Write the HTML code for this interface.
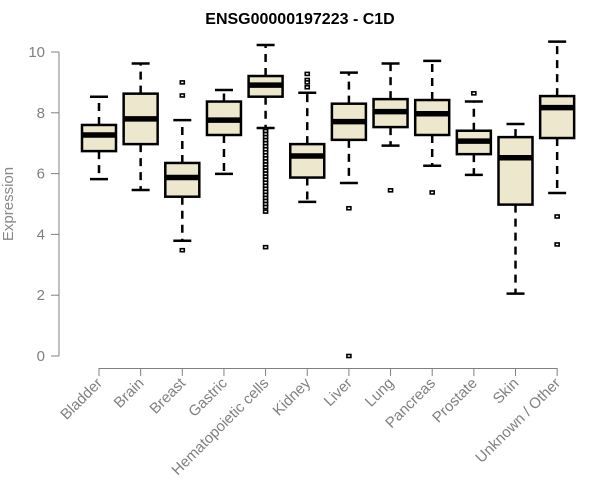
<!DOCTYPE html>
<html><head><meta charset="utf-8"><style>
body{margin:0;background:#fff}
svg{display:block;font-family:"Liberation Sans",Arial,sans-serif}
</style></head><body>
<svg id="chart" width="600" height="500" xmlns="http://www.w3.org/2000/svg">
<text x="300" y="24" text-anchor="middle" font-weight="bold" font-size="16" fill="#000">ENSG00000197223 - C1D</text>
<text transform="translate(13,204) rotate(-90)" text-anchor="middle" font-size="15" fill="#888">Expression</text>
<g id="axes"></g><g id="boxes"></g>
</svg>
<script>
const categories=["Bladder","Brain","Breast","Gastric","Hematopoietic cells","Kidney","Liver","Lung","Pancreas","Prostate","Skin","Unknown / Other"];
const whiskerLow=[5.82,5.46,3.79,5.99,7.5,5.07,5.69,6.92,6.26,5.96,2.05,5.36];
const q1=[6.74,6.97,5.24,7.27,8.53,5.87,7.11,7.53,7.27,6.64,4.98,7.17];
const medians=[7.27,7.80,5.87,7.76,8.91,6.58,7.71,8.04,7.97,7.07,6.52,8.17];
const q3=[7.6,8.63,6.35,8.37,9.21,6.97,8.30,8.45,8.42,7.41,7.20,8.55];
const whiskerHigh=[8.53,9.62,7.76,8.75,10.23,8.66,9.32,9.62,9.71,8.37,7.63,10.34];
const outliers=[[],[],[9.0,8.57,3.48],[],[7.45,7.4,7.3,7.2,7.1,7.0,6.9,6.8,6.7,6.6,6.5,6.4,6.3,6.2,6.1,6.0,5.9,5.8,5.7,5.6,5.5,5.4,5.3,5.2,5.1,5.0,4.9,4.75,3.58],[9.28,9.08,9.0,8.84],[4.86,0.0],[5.45],[5.38],[8.64],[],[4.59,3.67]];
const yTicks=[0,2,4,6,8,10];
const NS="http://www.w3.org/2000/svg";
const y=v=>356-v*30.4;
const x=i=>99+i*41.65;
function mk(tag,attrs,parent){const e=document.createElementNS(NS,tag);for(const k in attrs)e.setAttribute(k,attrs[k]);parent.appendChild(e);return e;}
const ax=document.getElementById('axes'),bx=document.getElementById('boxes');
const g="#808080";
let l=mk('line',{x1:59,x2:59,y1:y(0),y2:y(10),stroke:g},ax);


yTicks.forEach(t=>{
 const tk=mk('line',{x1:51,x2:59,y1:y(t),y2:y(t),stroke:g},ax);
 
 
 const tx=mk('text',{x:45,y:y(t)+5,'text-anchor':'end','font-size':15,fill:'#808080'},ax);
 tx.textContent=t;
 
 
});
l=mk('line',{x1:x(0),x2:x(categories.length-1),y1:368.5,y2:368.5,stroke:g},ax);


categories.forEach((c,i)=>{
 const cx=x(i);
 const tk=mk('line',{x1:cx,x2:cx,y1:368,y2:376,stroke:g},ax);
 
 
 const tx=mk('text',{transform:`translate(${cx+4},${384}) rotate(-45)`,'text-anchor':'end','font-size':15,fill:'#808080'},ax);
 tx.textContent=c;
 
 
 const grp=mk('g',{},bx);
 
 
 const hw=17;
 mk('line',{x1:cx,x2:cx,y1:y(q3[i]),y2:y(whiskerHigh[i]),stroke:'#000','stroke-width':2.5,'stroke-dasharray':'8,6'},grp);
 mk('line',{x1:cx,x2:cx,y1:y(q1[i]),y2:y(whiskerLow[i]),stroke:'#000','stroke-width':2.5,'stroke-dasharray':'8,6'},grp);
 mk('line',{x1:cx-9,x2:cx+9,y1:y(whiskerHigh[i]),y2:y(whiskerHigh[i]),stroke:'#000','stroke-width':2.5},grp);
 mk('line',{x1:cx-9,x2:cx+9,y1:y(whiskerLow[i]),y2:y(whiskerLow[i]),stroke:'#000','stroke-width':2.5},grp);
 mk('rect',{x:cx-hw,y:y(q3[i]),width:2*hw,height:y(q1[i])-y(q3[i]),fill:'#ede7cd',stroke:'#000','stroke-width':2.5},grp);
 mk('line',{x1:cx-hw,x2:cx+hw,y1:y(medians[i]),y2:y(medians[i]),stroke:'#000','stroke-width':5.5},grp);
 outliers[i].forEach(o=>{mk('rect',{x:cx-2,y:y(o)-1.5,width:4,height:3,fill:'#fff',stroke:'#000','stroke-width':1.6},grp);});
});
</script>
</body></html>
